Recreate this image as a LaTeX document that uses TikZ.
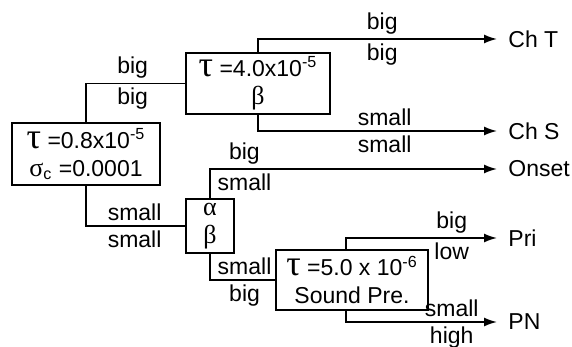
\documentclass[tikz,border=0pt]{standalone}
\usepackage{fontspec}
\setmainfont{Liberation Sans}
\newfontfamily\greekfont{Liberation Serif}
\usetikzlibrary{arrows.meta}
\usetikzlibrary{calc}

\newcommand{\tauL}{{\greekfont\fontsize{18}{17}\selectfont τ}}
\newcommand{\grk}[1]{{\greekfont\fontsize{13}{13}\selectfont #1}}

\tikzset{
	box/.style={draw, line width=0.8pt, align=center, inner sep=1pt,
		font=\fontsize{11.5}{14}\selectfont},
	lbl/.style={inner sep=2pt, font=\fontsize{11.5}{12}\selectfont},
	leaf/.style={anchor=west, inner sep=5.5pt, font=\fontsize{11.5}{12}\selectfont},
	wire/.style={line width=0.8pt},
	arr/.style={wire, -{Latex[length=6.5pt,width=4.5pt]}},
}

\begin{document}
\begin{tikzpicture}[x=0.5pt, y=-0.5pt]
	\useasboundingbox (0,0) rectangle (572,347);
	% decision boxes
	\node[box, minimum width=74pt, minimum height=31pt] (root) at (86,154)
		{\tauL\ =0.8x10\textsuperscript{-5}\\\grk{σ}\textsubscript{c} =0.0001};
	\node[box, minimum width=72pt, minimum height=30.5pt] (fcomp) at (258,83.5)
		{\tauL\ =4.0x10\textsuperscript{-5}\\\grk{β}};
	\node[box, minimum width=24pt, minimum height=27pt] (ab) at (210,226)
		{\grk{α}\\\grk{β}};
	\node[box, minimum width=76pt, minimum height=30pt] (snd) at (352,280)
		{\tauL\ =5.0 x 10\textsuperscript{-6}\\Sound Pre.};
	% leaves
	\node[leaf] (chT) at (497,39) {Ch T};
	\node[leaf] (chS) at (497,131) {Ch S};
	\node[leaf] (onset) at (497,169) {Onset};
	\node[leaf] (pri) at (497,238) {Pri};
	\node[leaf] (pn) at (497,322) {PN};
	% connectors
	\draw[wire] (root.north) |- (fcomp.west)
		node[lbl, above, pos=0.735] {big} node[lbl, below, pos=0.735] {big};
	\draw[wire] (root.south) |- (ab.west)
		node[lbl, above, pos=0.745] {small} node[lbl, below, pos=0.745] {small};
	\draw[arr] (fcomp.north) |- (chT.west)
		node[lbl, above, pos=0.76] {big} node[lbl, below, pos=0.76] {big};
	\draw[arr] (fcomp.south) |- (chS.west)
		node[lbl, above, pos=0.765] {small} node[lbl, below, pos=0.765] {small};
	\draw[arr] (ab.north) |- (onset.west)
		node[lbl, above, pos=0.56] {big} node[lbl, below, pos=0.56] {small};
	\draw[wire] (ab.south) |- (snd.west)
		node[lbl, above, pos=0.765] {small} node[lbl, below, pos=0.765] {big};
	\draw[arr] ([xshift=-3pt]snd.north) |- (pri.west)
		node[lbl, above, pos=0.85] {big} node[lbl, below, pos=0.85] {low};
	\draw[arr] ([xshift=-3pt]snd.south) |- (pn.west)
		node[lbl, above, pos=0.85] {small} node[lbl, below, pos=0.85] {high};
\end{tikzpicture}
\end{document}
